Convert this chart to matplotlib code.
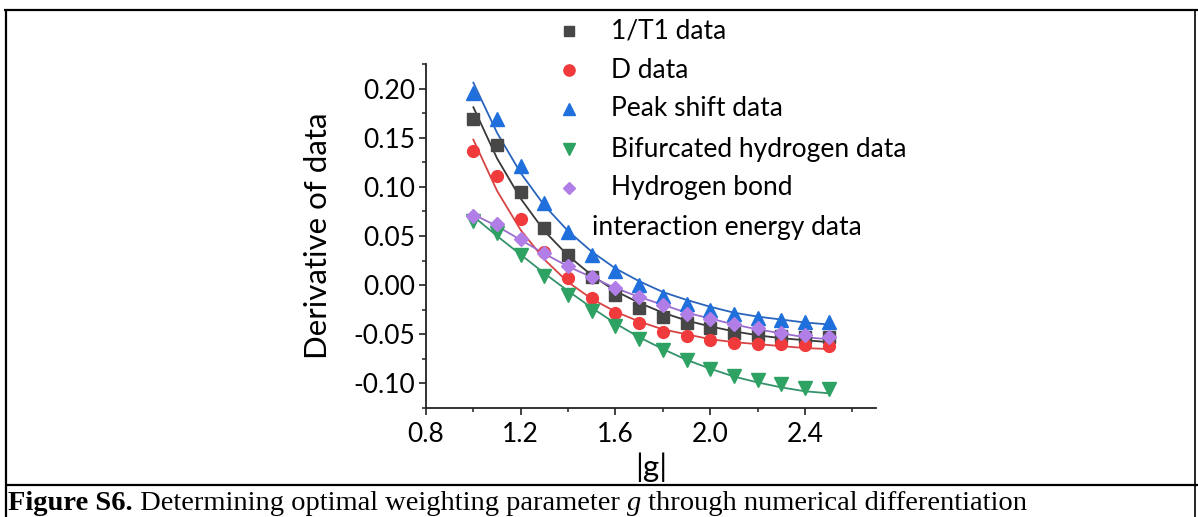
import matplotlib
matplotlib.use("Agg")
import matplotlib.pyplot as plt

# ---------------- data ----------------
g_values = [1.0, 1.1, 1.2, 1.3, 1.4, 1.5, 1.6, 1.7, 1.8, 1.9, 2.0, 2.1, 2.2, 2.3, 2.4, 2.5]

t1_data = [0.169, 0.143, 0.095, 0.058, 0.031, 0.008, -0.010, -0.023, -0.032, -0.039,
           -0.044, -0.049, -0.051, -0.052, -0.053, -0.053]
d_data = [0.136, 0.111, 0.067, 0.034, 0.007, -0.013, -0.028, -0.039, -0.048, -0.052,
          -0.056, -0.059, -0.060, -0.060, -0.061, -0.062]
peak_data = [0.196, 0.169, 0.121, 0.084, 0.054, 0.031, 0.014, 0.000, -0.011, -0.019,
             -0.025, -0.029, -0.033, -0.035, -0.037, -0.037]
bif_data = [0.065, 0.053, 0.031, 0.009, -0.010, -0.026, -0.042, -0.055, -0.066, -0.076,
            -0.085, -0.092, -0.097, -0.101, -0.105, -0.106]
hb_data = [0.070, 0.062, 0.047, 0.033, 0.019, 0.008, -0.003, -0.012, -0.020, -0.029,
           -0.034, -0.040, -0.044, -0.049, -0.051, -0.053]

# fitted curves
t1_fit = [0.181, 0.129, 0.088, 0.055, 0.030, 0.010, -0.006, -0.018, -0.028, -0.036,
          -0.042, -0.047, -0.051, -0.054, -0.056, -0.058]
d_fit = [0.148, 0.096, 0.056, 0.026, 0.003, -0.014, -0.027, -0.037, -0.045, -0.050,
         -0.055, -0.058, -0.060, -0.062, -0.064, -0.065]
peak_fit = [0.206, 0.155, 0.114, 0.081, 0.055, 0.034, 0.017, 0.004, -0.007, -0.015,
            -0.022, -0.028, -0.032, -0.035, -0.038, -0.040]
bif_fit = [0.070, 0.050, 0.031, 0.012, -0.006, -0.023, -0.039, -0.053, -0.065, -0.076,
           -0.085, -0.093, -0.099, -0.104, -0.108, -0.110]
hb_fit = [0.072, 0.060, 0.046, 0.032, 0.019, 0.008, -0.003, -0.012, -0.020, -0.028,
          -0.034, -0.040, -0.045, -0.049, -0.053, -0.055]

series_labels = ["1/T1 data", "D data", "Peak shift data",
                 "Bifurcated hydrogen data", "Hydrogen bond"]
legend_extra = "interaction energy data"

x_ticks = [0.8, 1.2, 1.6, 2.0, 2.4]
x_tick_labels = ["0.8", "1.2", "1.6", "2.0", "2.4"]
y_ticks = [-0.10, -0.05, 0.00, 0.05, 0.10, 0.15, 0.20]
y_tick_labels = ["-0.10", "-0.05", "0.00", "0.05", "0.10", "0.15", "0.20"]

x_label = "|g|"
y_label = "Derivative of data"

caption_parts = [("Figure S6.", "bold", "normal"),
                 (" Determining optimal weighting parameter ", "normal", "normal"),
                 ("g", "normal", "italic"),
                 (" through numerical differentiation", "normal", "normal")]

# ---------------- style ----------------
FONT = "Lato"
W, H = 1198, 517
fig = plt.figure(figsize=(W / 100, H / 100), dpi=100)

ax = fig.add_axes([426 / W, 1 - 408 / H, 450 / W, 344 / H])
ax.set_xlim(0.8, 2.7)
ax.set_ylim(-0.125, 0.225)

styles = [
    dict(data=t1_data, fit=t1_fit, marker="s", ms=8.0, mc="#474747", lc="#383838"),
    dict(data=d_data, fit=d_fit, marker="o", ms=8.5, mc="#f03a3c", lc="#d84343"),
    dict(data=peak_data, fit=peak_fit, marker="^", ms=9.8, mc="#1f6fdc", lc="#2a65bd"),
    dict(data=bif_data, fit=bif_fit, marker="v", ms=9.8, mc="#2ea262", lc="#35926a"),
    dict(data=hb_data, fit=hb_fit, marker="D", ms=6.8, mc="#b07ee6", lc="#9a6dcc"),
]

for st in styles:
    ax.plot(g_values, st["fit"], color=st["lc"], lw=1.3, zorder=2)
for st in styles:
    ax.plot(g_values, st["data"], ls="none", marker=st["marker"], ms=st["ms"],
            color=st["mc"], mec=st["mc"], zorder=3)

for side in ("top", "right"):
    ax.spines[side].set_visible(False)
for side in ("left", "bottom"):
    ax.spines[side].set_linewidth(1.3)
    ax.spines[side].set_color("#222222")

ax.set_xticks(x_ticks)
ax.set_xticklabels(x_tick_labels)
ax.set_xticks([1.0, 1.4, 1.8, 2.2, 2.6], minor=True)
ax.set_yticks(y_ticks)
ax.set_yticklabels(y_tick_labels)
ax.set_yticks([-0.125, -0.075, -0.025, 0.025, 0.075, 0.125, 0.175, 0.225], minor=True)
ax.tick_params(which="major", direction="out", length=5, width=1.2, colors="#222222",
               labelsize=19, labelcolor="black")
ax.tick_params(which="minor", direction="out", length=3, width=1.1, colors="#222222")
ax.tick_params(axis="x", which="major", pad=5)
ax.tick_params(axis="y", which="major", pad=3)
for lab in ax.get_xticklabels() + ax.get_yticklabels():
    lab.set_fontfamily(FONT)

# overlay in pixel coordinates for frame, legend, labels, caption
ov = fig.add_axes([0, 0, 1, 1], facecolor="none")
ov.set_xlim(0, W)
ov.set_ylim(H, 0)
ov.axis("off")

ov.text(318, 236, y_label, rotation=90, ha="center", va="center",
        fontsize=22.5, family=FONT)
ov.text(651, 467, x_label, ha="center", va="center", fontsize=22.5, family=FONT)

leg_y = [31, 70, 109, 149, 188]
for st, lab, yy in zip(styles, series_labels, leg_y):
    ov.plot([569], [yy], ls="none", marker=st["marker"], ms=st["ms"] * 0.95,
            color=st["mc"], mec=st["mc"])
    ov.text(611, yy, lab, ha="left", va="center", fontsize=19, family=FONT)
ov.text(592, 227, legend_extra, ha="left", va="center", fontsize=19, family=FONT)

# frame lines
ov.plot([4, W], [10, 10], color="black", lw=1.6, solid_capstyle="butt")
ov.plot([6, 6], [10, H], color="black", lw=1.6, solid_capstyle="butt")
ov.plot([1195, 1195], [10, H], color="black", lw=1.2, solid_capstyle="butt")
ov.plot([6, W], [485, 485], color="black", lw=1.6, solid_capstyle="butt")

# caption assembled from pieces
fig.canvas.draw()
renderer = fig.canvas.get_renderer()
x_px = 8.0
for txt, weight, style in caption_parts:
    t = fig.text(x_px / W, 1 - 510 / H, txt, ha="left", va="baseline",
                 fontsize=20.5, family="Liberation Serif", weight=weight, style=style)
    bb = t.get_window_extent(renderer=renderer)
    x_px = bb.x1

fig.savefig("out.png", dpi=100)
